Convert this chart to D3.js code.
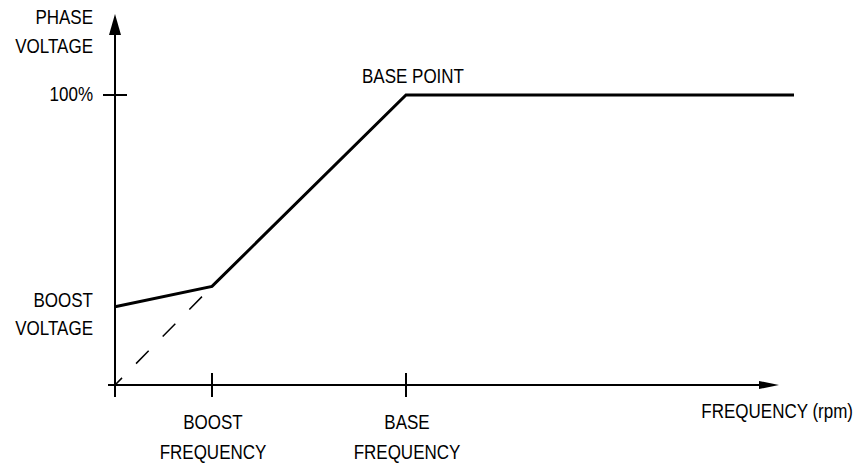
<!DOCTYPE html>
<html>
<head>
<meta charset="utf-8">
<script src="https://cdn.jsdelivr.net/npm/d3@7/dist/d3.min.js"></script>
<style>
  html, body { margin: 0; padding: 0; background: #fff; }
  text { font-family: "Liberation Sans", Arial, sans-serif; font-size: 20px; fill: #000; }
</style>
</head>
<body>
<svg id="chart" width="862" height="463"></svg>
<script>
// ---- data ----
const freqNames = ["origin", "boost", "base", "max"];
const freqValues = [0, 10, 30, 70];            // frequency (arbitrary units)
const solidVoltage = [27, 34, 100, 100];        // phase voltage % at each frequency
const dashedFreq = [0, 10];
const dashedVoltage = [0, 34];
const xTickValues = [10, 30];
const xTickLabels = [["BOOST", "FREQUENCY"], ["BASE", "FREQUENCY"]];
const yTickValues = [100];
const yTickLabels = ["100%"];
const yAxisTitle = ["PHASE", "VOLTAGE"];
const boostLabel = ["BOOST", "VOLTAGE"];
const basePointLabel = "BASE POINT";
const xAxisTitle = "FREQUENCY (rpm)";

// ---- scales ----
const x = d3.scaleLinear().domain([0, 70]).range([115, 794]);
const y = d3.scaleLinear().domain([0, 100]).range([385, 95]);

const svg = d3.select("#chart");
const narrow = 0.85;
function addText(px, py, str, anchor) {
  svg.append("g").attr("transform", `translate(${px},${py}) scale(${narrow},1)`)
    .append("text").attr("text-anchor", anchor).attr("x", 0).attr("y", 0).text(str);
}

const axisColor = "#000";
// y axis
svg.append("line").attr("x1", x(0)).attr("x2", x(0))
  .attr("y1", y(0) + 12).attr("y2", 30)
  .attr("stroke", axisColor).attr("stroke-width", 2);
svg.append("path")
  .attr("d", `M${x(0)},14 L${x(0) - 6},35 L${x(0) + 6},35 Z`)
  .attr("fill", axisColor);
// x axis
svg.append("line").attr("x1", x(0) - 7).attr("x2", 762)
  .attr("y1", y(0)).attr("y2", y(0))
  .attr("stroke", axisColor).attr("stroke-width", 2);
svg.append("path")
  .attr("d", `M779,${y(0)} L759,${y(0) - 4} L759,${y(0) + 4} Z`)
  .attr("fill", axisColor);

// x ticks
svg.selectAll(".xtick").data(xTickValues).enter().append("line")
  .attr("x1", d => x(d)).attr("x2", d => x(d))
  .attr("y1", y(0) - 12).attr("y2", y(0) + 12)
  .attr("stroke", axisColor).attr("stroke-width", 2);
// y ticks
svg.selectAll(".ytick").data(yTickValues).enter().append("line")
  .attr("x1", x(0) - 12).attr("x2", x(0) + 12)
  .attr("y1", d => y(d)).attr("y2", d => y(d))
  .attr("stroke", axisColor).attr("stroke-width", 2);

// dashed line
const lineGen = d3.line().x(d => x(d[0])).y(d => y(d[1]));
svg.append("path")
  .datum(dashedFreq.map((f, i) => [f, dashedVoltage[i]]))
  .attr("d", lineGen)
  .attr("fill", "none").attr("stroke", "#000").attr("stroke-width", 1.5)
  .attr("stroke-dasharray", "18,20").attr("stroke-dashoffset", 8);

// solid V/f line
svg.append("path")
  .datum(freqValues.map((f, i) => [f, solidVoltage[i]]))
  .attr("d", lineGen)
  .attr("fill", "none").attr("stroke", "#000").attr("stroke-width", 3)
  .attr("stroke-linejoin", "miter");

// x tick labels
xTickValues.forEach((v, i) => {
  xTickLabels[i].forEach((s, j) => {
    addText(x(v) + 1, y(0) + 44 + j * 30, s, "middle");
  });
});

// y tick labels
yTickValues.forEach((v, i) => addText(93, y(v) + 6, yTickLabels[i], "end"));

// y axis title
yAxisTitle.forEach((s, j) => addText(93, 24 + j * 29, s, "end"));

// boost voltage label
boostLabel.forEach((s, j) => addText(93, 307 + j * 28, s, "end"));

// base point label
addText(x(30) + 7, y(100) - 12, basePointLabel, "middle");

// x axis title
addText(853, y(0) + 33, xAxisTitle, "end");
</script>
</body>
</html>
